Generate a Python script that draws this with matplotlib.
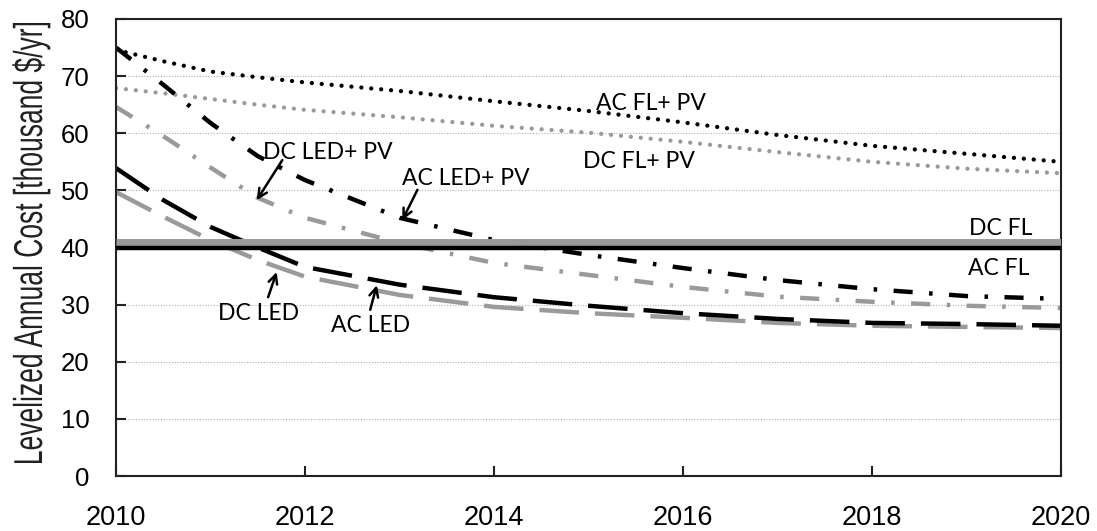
import matplotlib
matplotlib.use('Agg')
import matplotlib.pyplot as plt
from matplotlib.font_manager import FontProperties
from matplotlib.textpath import TextPath
from matplotlib.patches import PathPatch
from matplotlib.transforms import Affine2D

# Values (thousand $/yr).
years = [2010, 2010.5, 2011, 2011.5, 2012, 2013, 2014, 2015, 2016, 2017, 2018, 2019, 2020]
ac_fl_pv = [74.6, 72.6, 70.8, 69.8, 68.9, 67.4, 65.6, 63.9, 61.9, 59.7, 57.8, 56.4, 55.0]
dc_fl_pv = [67.9, 67.0, 66.0, 65.0, 64.1, 62.8, 61.3, 60.1, 58.5, 56.7, 55.0, 53.8, 53.0]
ac_led_pv = [75.0, 68.5, 61.8, 56.0, 51.8, 45.2, 41.3, 38.7, 36.4, 34.3, 32.7, 31.5, 31.0]
dc_led_pv = [64.6, 59.5, 54.0, 48.7, 45.2, 40.8, 37.3, 35.2, 33.1, 31.4, 30.5, 29.8, 29.4]
ac_led = [53.9, 48.3, 43.6, 40.0, 36.6, 33.5, 31.3, 29.8, 28.5, 27.5, 26.8, 26.6, 26.3]
dc_led = [49.7, 45.4, 41.3, 37.8, 34.9, 31.7, 29.6, 28.5, 27.7, 26.8, 26.3, 26.1, 25.9]
fl_years = [2010, 2020]
dc_fl = [41.0, 41.0]
ac_fl = [40.0, 40.0]

# text labels: (text, x, y) and arrows: (tail, head)
labels = [('AC FL+ PV', 2015.66, 64.1), ('DC FL+ PV', 2015.53, 53.9),
          ('DC LED+ PV', 2012.24, 55.5), ('AC LED+ PV', 2013.70, 50.9),
          ('DC FL', 2019.36, 42.2), ('AC FL', 2019.34, 35.2),
          ('DC LED', 2011.51, 27.3), ('AC LED', 2012.69, 25.2)]
arrows = [((2011.76, 55.3), (2011.49, 48.3)),
          ((2013.19, 50.1), (2013.03, 44.8)),
          ((2011.61, 31.3), (2011.70, 35.7)),
          ((2012.69, 29.1), (2012.76, 33.4))]

GRAY = '#9a9a9a'
W, H = 1097, 531

fig = plt.figure(figsize=(W / 100, H / 100), dpi=100)
ax = fig.add_axes([116 / W, 55 / H, 945 / W, 457 / H])

dot = (0, (0.01, 2.3))
dashdot = (0, (4.3, 3.7, 0.8, 3.7))
longdash = (0, (8.9, 3.6))

ax.plot(fl_years, dc_fl, color=GRAY, lw=5, solid_capstyle='butt', zorder=3)
ax.plot(fl_years, ac_fl, color='black', lw=3.2, solid_capstyle='butt', zorder=3)
ax.plot(years, dc_fl_pv, color=GRAY, lw=3.1, ls=dot, dash_capstyle='round')
ax.plot(years, ac_fl_pv, color='black', lw=3.1, ls=dot, dash_capstyle='round')
ax.plot(years, dc_led_pv, color=GRAY, lw=3.2, ls=dashdot)
ax.plot(years, ac_led_pv, color='black', lw=3.2, ls=dashdot)
ax.plot(years, dc_led, color=GRAY, lw=3.2, ls=longdash)
ax.plot(years, ac_led, color='black', lw=3.2, ls=longdash)

for txt, x, y in labels:
    ax.text(x, y, txt, ha='center', va='baseline', fontsize=16.5, family='Lato')
for tail, head in arrows:
    ax.annotate('', xy=head, xytext=tail,
                arrowprops=dict(arrowstyle='->', lw=1.8, color='black',
                                shrinkA=0, shrinkB=0, mutation_scale=16))

ax.set_xlim(2010, 2020)
ax.set_ylim(0, 80)
ax.set_xticks(range(2010, 2021, 2))
ax.set_yticks(range(0, 81, 10))
ax.yaxis.grid(True, ls=(0, (1, 1.5)), color='#b0b0b0', lw=0.8)
ax.set_axisbelow(True)
ax.tick_params(direction='in', length=7, width=1.5, color='#222222')
ax.tick_params(axis='x', pad=21, labelsize=19.5)
ax.tick_params(axis='y', pad=19, labelsize=18.5)
for lab in ax.get_xticklabels() + ax.get_yticklabels():
    lab.set_family('Liberation Sans')
for sp in ax.spines.values():
    sp.set_linewidth(1.5)
    sp.set_color('#222222')

# y label: the reference uses a tall, narrow rendering, so draw it as a stretched path
ylabel = 'Levelized Annual Cost [thousand $/yr]'
fp = FontProperties(family='Liberation Sans')
tp = TextPath((0, 0), ylabel, size=100, prop=fp)
bb = tp.get_extents()
sx = 440 / bb.width
sy = 29 / 72.0
tr = (Affine2D().translate(-bb.x0, 0).scale(sx, sy).rotate_deg(90)
      .translate(42, 68).scale(1 / W, 1 / H) + fig.transFigure)
fig.patches.append(PathPatch(tp, transform=tr, facecolor='#222222', edgecolor='none'))

fig.savefig('out.png', dpi=100)
